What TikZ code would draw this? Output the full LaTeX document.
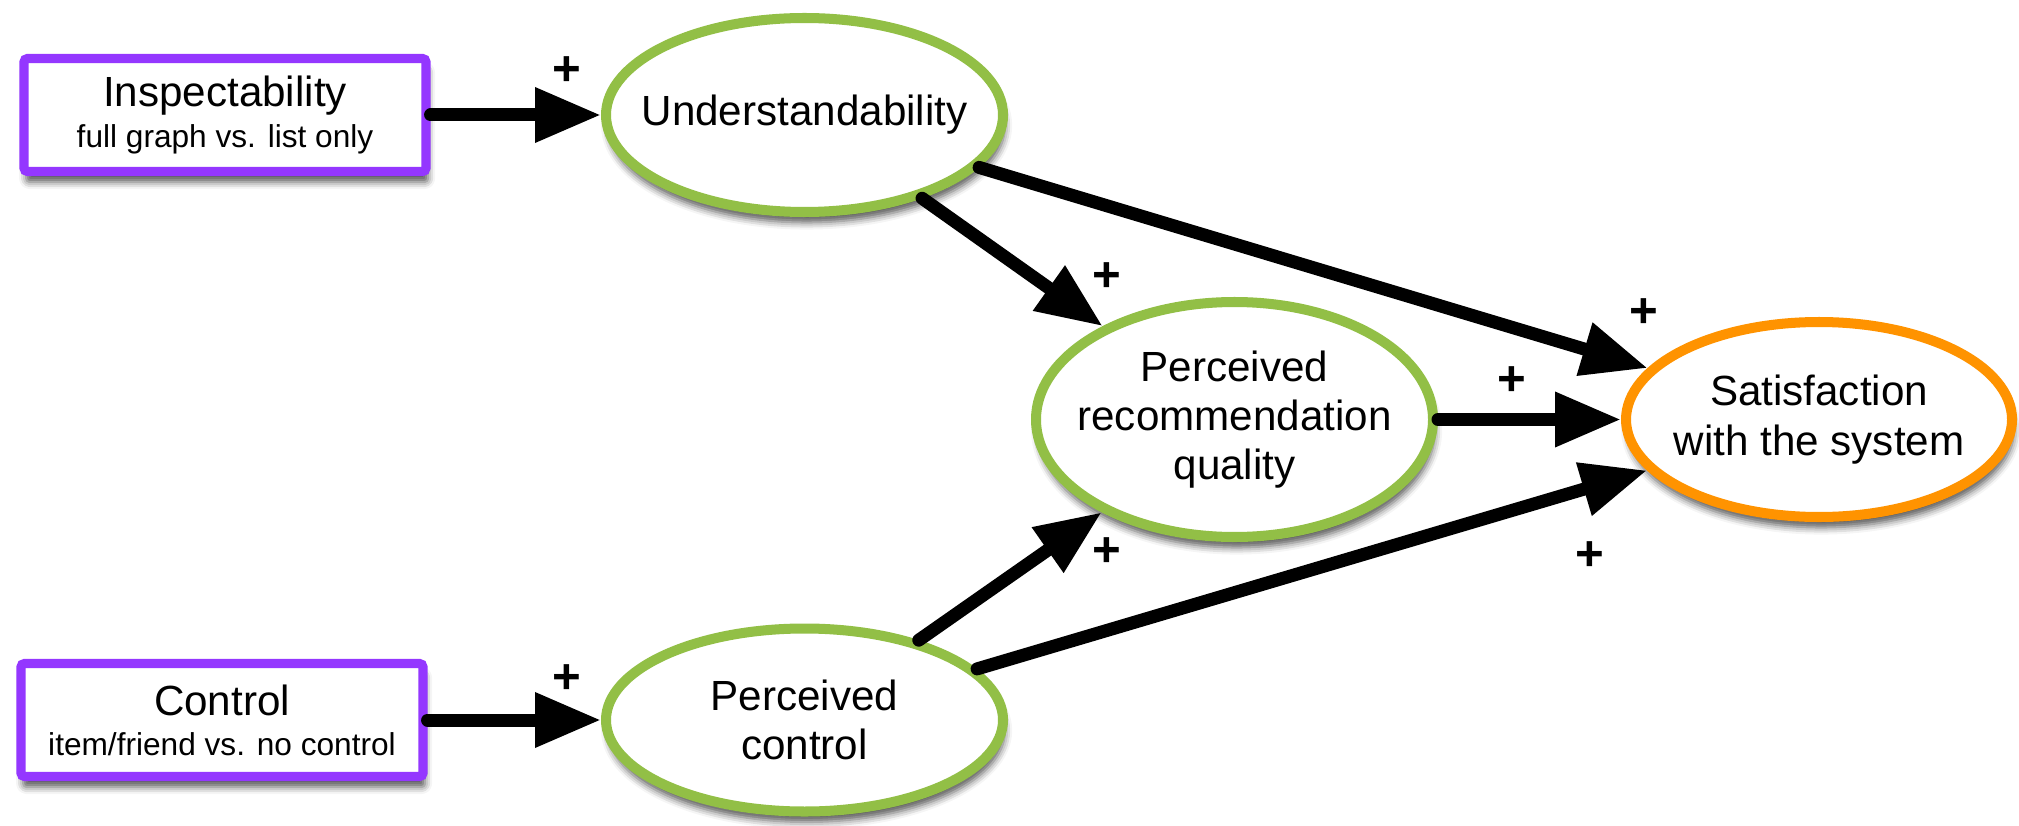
\documentclass[tikz,border=0pt]{standalone}
\usepackage{fontspec}
\setmainfont{Liberation Sans}
\usetikzlibrary{arrows.meta,shapes.geometric,shadows.blur}
\definecolor{manippurple}{HTML}{9437FF}
\definecolor{factorgreen}{HTML}{92BF46}
\definecolor{outcomeorange}{HTML}{FF9300}
\newcommand{\subtext}{\fontsize{9pt}{11pt}\selectfont}

\begin{document}
\begin{tikzpicture}[
        manip/.style={draw=manippurple,line width=2.6pt,fill=white,
            rounded corners=1pt,minimum width=4.02cm,minimum height=1.13cm,
            inner sep=0pt,align=center,font=\fontsize{12pt}{11.4pt}\selectfont,
            blur shadow={shadow xshift=0.6pt,shadow yshift=-3pt,
                shadow blur radius=2pt,shadow opacity=65}},
        factor/.style={ellipse,draw=factorgreen,line width=2.85pt,fill=white,
            inner sep=-4mm,align=center,font=\fontsize{12pt}{14pt}\selectfont,
            blur shadow={shadow xshift=0.6pt,shadow yshift=-3pt,
                shadow blur radius=2pt,shadow opacity=65}},
        outcome/.style={factor,draw=outcomeorange},
        effect/.style={-{Triangle[length=0.66cm,width=0.52cm]},
            line width=3.7pt,line cap=round},
        sign/.style={font=\fontsize{14pt}{16pt}\selectfont\bfseries}]
    \useasboundingbox (0,0) rectangle (20.19,8.25);

    % manipulations
    \node[manip] (insp) at (2.25,7.10)
        {Inspectability\\{\subtext full graph vs. list only}};
    \node[manip] (ctrl) at (2.22,1.05)
        {Control\\{\subtext item/friend vs. no control}};

    % subjective factors
    \node[factor, minimum width=3.97cm, minimum height=1.94cm] (und)
        at (8.045,7.10) {Understandability};
    \node[factor, minimum width=3.97cm, minimum height=2.35cm] (prq)
        at (12.345,4.055) {Perceived\\recommendation\\quality};
    \node[factor, minimum width=3.97cm, minimum height=1.83cm] (pc)
        at (8.045,1.05) {Perceived\\control};
    \node[outcome, minimum width=3.86cm, minimum height=1.95cm] (sat)
        at (18.19,4.055) {Satisfaction\\with the system};

    % paths
    \draw[effect] (insp) -- (und);
    \draw[effect] (ctrl) -- (pc);
    \draw[effect] (und) -- (prq);
    \draw[effect] (und) -- (sat);
    \draw[effect] (pc) -- (prq);
    \draw[effect] (pc) -- (sat);
    \draw[effect] (prq) -- (sat);

    \node[sign] (s-insp) at (5.67,7.54) {+};
    \node[sign] (s-ctrl) at (5.67,1.46) {+};
    \node[sign] (s-undprq) at (11.07,5.48) {+};
    \node[sign] (s-undsat) at (16.44,5.12) {+};
    \node[sign] (s-prqsat) at (15.12,4.44) {+};
    \node[sign] (s-pcprq) at (11.07,2.73) {+};
    \node[sign] (s-pcsat) at (15.90,2.69) {+};
\end{tikzpicture}
\end{document}
